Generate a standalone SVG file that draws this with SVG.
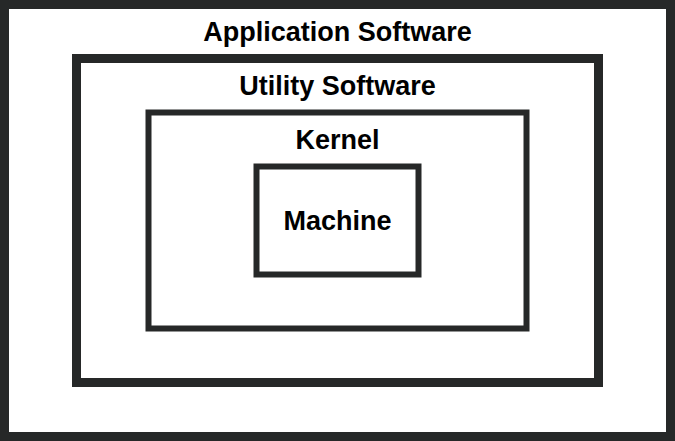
<svg xmlns="http://www.w3.org/2000/svg" width="675" height="441" viewBox="0 0 675 441">
<style>
.box{fill:none;stroke:#262828}
.lbl{font-family:"Liberation Sans",Arial,sans-serif;font-weight:bold;font-size:27px;fill:#000;text-anchor:middle}
</style>
<rect x="0" y="0" width="675" height="441" fill="#fff"/>
<g id="application">
<rect class="box" x="4.5" y="4.5" width="666" height="432" stroke-width="9"/>
<text class="lbl" x="337.5" y="41">Application Software</text>
</g>
<g id="utility">
<rect class="box" x="76.5" y="58.5" width="522" height="324" stroke-width="9"/>
<text class="lbl" x="337.5" y="95">Utility Software</text>
</g>
<g id="kernel">
<rect class="box" x="148.5" y="112.5" width="378" height="216" stroke-width="6"/>
<text class="lbl" x="337.5" y="149">Kernel</text>
</g>
<g id="machine">
<rect class="box" x="256.5" y="166.5" width="162" height="108" stroke-width="6"/>
<text class="lbl" x="337.5" y="230">Machine</text>
</g>
<g id="connectors"/>
</svg>
